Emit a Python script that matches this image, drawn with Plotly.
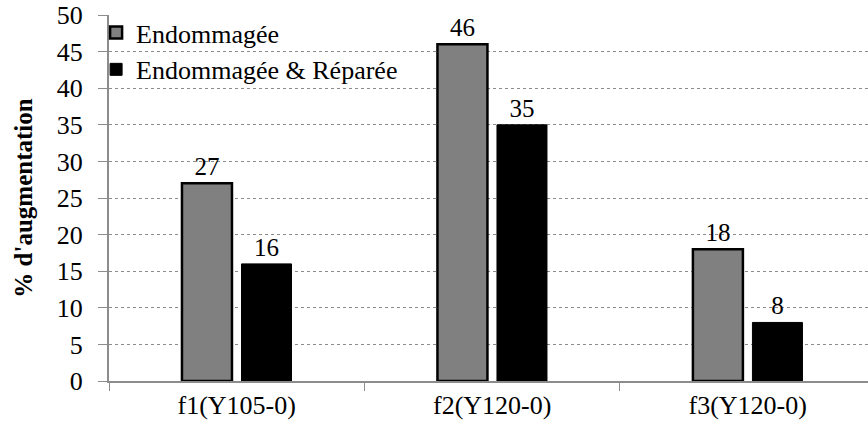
import plotly.graph_objects as go

categories = ["f1(Y105-0)", "f2(Y120-0)", "f3(Y120-0)"]
endommagee = [27, 46, 18]
endommagee_reparee = [16, 35, 8]
y_ticks = [0, 5, 10, 15, 20, 25, 30, 35, 40, 45, 50]

font_family = "Liberation Serif"
fs = 26

fig = go.Figure()
fig.add_trace(go.Bar(
    x=categories, y=endommagee, name="Endommagée",
    marker=dict(color="#808080", line=dict(color="#000000", width=2.5)),
    text=[str(v) for v in endommagee], textposition="outside",
    textfont=dict(size=25, color="#000000", family=font_family), cliponaxis=False,
))
fig.add_trace(go.Bar(
    x=categories, y=endommagee_reparee, name="Endommagée & Réparée",
    marker=dict(color="#000000", line=dict(color="#000000", width=1)),
    text=[str(v) for v in endommagee_reparee], textposition="outside",
    textfont=dict(size=25, color="#000000", family=font_family), cliponaxis=False,
))

# white panel behind the legend (hides gridlines there, like the reference)
fig.add_shape(type="rect", xref="paper", yref="paper",
              x0=0.002, x1=0.39, y0=0.806, y1=0.994,
              fillcolor="white", line=dict(width=0), layer="between")

fig.update_layout(
    width=868, height=428,
    margin=dict(l=109, r=0, t=15, b=47, autoexpand=False),
    paper_bgcolor="white", plot_bgcolor="white",
    font=dict(family=font_family, size=fs, color="#000000"),
    barmode="group", bargap=0.534, bargroupgap=0.16,
    showlegend=True,
    legend=dict(x=-0.017, y=1.016, xanchor="left", yanchor="top",
                bgcolor="rgba(0,0,0,0)", font=dict(size=fs, family=font_family),
                itemwidth=30, tracegroupgap=0, borderwidth=0,
                traceorder="normal"),
)
fig.update_xaxes(
    range=[-0.5, 2.471],
    showline=True, linecolor="#8c8c8c", linewidth=2, automargin=False,
    ticks="outside", tickson="boundaries", ticklen=8, tickcolor="#8c8c8c",
    tickfont=dict(size=fs, family=font_family), showgrid=False,
)
fig.update_yaxes(
    range=[0, 50], tickvals=y_ticks, showline=True, linecolor="#8c8c8c", linewidth=2,
    automargin=False, ticklabeloverflow="allow",
    ticks="outside", ticklen=9, tickcolor="#8c8c8c", ticklabelstandoff=10,
    tickfont=dict(size=fs, family=font_family),
    showgrid=True, gridcolor="#8c8c8c", griddash="dot", gridwidth=1,
    zeroline=False,
    title=dict(text="<b>% d'augmentation</b>", font=dict(size=25, family=font_family),
               standoff=17),
)
fig.write_html("out.html", config={"displayModeBar": False},
               post_script="document.body.style.margin='0';")
